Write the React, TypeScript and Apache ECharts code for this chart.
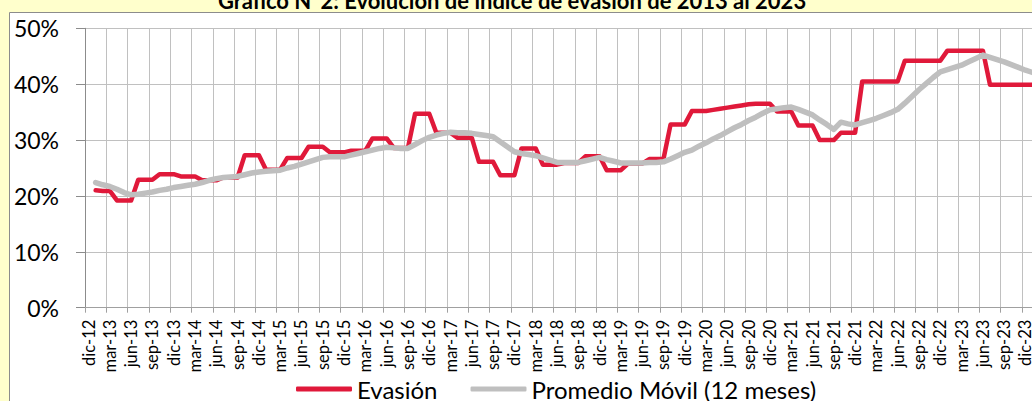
import React, { useEffect, useRef } from "react";
import * as echarts from "echarts";

const MONTHS = ["ene", "feb", "mar", "abr", "may", "jun", "jul", "ago", "sep", "oct", "nov", "dic"];
const START_YEAR = 12; // dic-12 is the first category
const N_CATEGORIES = 135;

const categories: string[] = [];
for (let i = 0; i < N_CATEGORIES; i++) {
  const m = (11 + i) % 12;
  const y = START_YEAR + Math.floor((11 + i) / 12);
  categories.push(`${MONTHS[m]}-${y}`);
}

const Y_TICKS = [0, 10, 20, 30, 40, 50];

const evasion: (number | null)[] = [
  null,
  21.0, 20.9, 20.9, 19.2, 19.2, 19.2, 22.9, 22.9, 22.9, 23.9, 23.9, 23.9, // 2013
  23.5, 23.5, 23.5, 22.8, 22.8, 22.8, 23.3, 23.3, 23.3, 27.3, 27.3, 27.3, // 2014
  24.7, 24.7, 24.7, 26.8, 26.8, 26.8, 28.8, 28.8, 28.8, 27.8, 27.8, 27.8, // 2015
  28.1, 28.1, 28.1, 30.3, 30.3, 30.3, 28.6, 28.6, 28.6, 34.7, 34.7, 34.7, // 2016
  31.3, 31.3, 31.3, 30.4, 30.4, 30.4, 26.1, 26.1, 26.1, 23.7, 23.7, 23.7, // 2017
  28.5, 28.5, 28.5, 25.6, 25.6, 25.6, 25.9, 25.9, 25.9, 27.1, 27.1, 27.1, // 2018
  24.6, 24.6, 24.6, 25.8, 25.8, 25.8, 26.6, 26.6, 26.6, 32.8, 32.8, 32.8, // 2019
  35.2, 35.2, 35.2, 35.4, 35.6, 35.8, 36.0, 36.2, 36.4, 36.5, 36.5, 36.5, // 2020
  35.1, 35.1, 35.1, 32.6, 32.6, 32.6, 30.0, 30.0, 30.0, 31.3, 31.3, 31.3, // 2021
  40.5, 40.5, 40.5, 40.5, 40.5, 40.5, 44.2, 44.2, 44.2, 44.2, 44.2, 44.2, // 2022
  46.0, 46.0, 46.0, 46.0, 46.0, 46.0, 39.9, 39.9, 39.9, 39.9, 39.9, 39.9, // 2023
  39.9, 39.9, // 2024
];

const promedioMovil: (number | null)[] = [
  null,
  22.4, 22.0, 21.7, 21.2, 20.6, 20.2, 20.3, 20.5, 20.7, 21.0, 21.2, 21.5, // 2013
  21.7, 21.9, 22.1, 22.4, 22.8, 23.1, 23.3, 23.4, 23.5, 23.8, 24.1, 24.3, // 2014
  24.4, 24.5, 24.6, 25.0, 25.3, 25.7, 26.1, 26.5, 26.9, 27.0, 27.0, 27.0, // 2015
  27.3, 27.6, 27.9, 28.2, 28.5, 28.7, 28.6, 28.5, 28.5, 29.2, 29.9, 30.5, // 2016
  30.9, 31.2, 31.4, 31.3, 31.3, 31.2, 31.0, 30.8, 30.6, 29.7, 28.8, 27.9, // 2017
  27.6, 27.4, 27.2, 26.8, 26.4, 26.0, 26.0, 26.0, 26.0, 26.3, 26.6, 26.9, // 2018
  26.5, 26.2, 25.9, 25.9, 25.9, 25.9, 26.0, 26.0, 26.1, 26.6, 27.2, 27.8, // 2019
  28.2, 28.9, 29.5, 30.2, 30.8, 31.5, 32.2, 32.8, 33.5, 34.1, 34.8, 35.4, // 2020
  35.6, 35.8, 35.9, 35.5, 35.0, 34.5, 33.6, 32.8, 31.9, 33.2, 32.9, 32.7, // 2021
  33.1, 33.5, 33.9, 34.4, 34.9, 35.5, 36.6, 37.8, 39.0, 40.1, 41.2, 42.2, // 2022
  42.6, 43.0, 43.4, 44.0, 44.6, 45.2, 44.8, 44.4, 44.0, 43.5, 43.0, 42.5, // 2023
  42.1, 41.7, // 2024
];

const TITLE = "Gráfico N°2: Evolución de índice de evasión de 2013 al 2023";
const SERIES_NAMES = ["Evasión", "Promedio Móvil (12 meses)"];

const FONT = "Lato, 'Open Sans', sans-serif";

export default function App() {
  const ref = useRef<HTMLDivElement>(null);

  useEffect(() => {
    if (!ref.current) return;
    const chart = echarts.init(ref.current, undefined, { renderer: "svg" });
    const plotLeft = 85;
    const catW = 7.098;
    chart.setOption({
      animation: false,
      backgroundColor: "#FFFFCC",
      textStyle: { fontFamily: FONT },
      graphic: [
        {
          type: "rect",
          z: -10,
          shape: { x: 9.5, y: 12.5, width: 1060, height: 400 },
          style: { fill: "#FFFFFF", stroke: "#8C8C8C", lineWidth: 1 },
        },
        {
          type: "text",
          x: 512,
          y: 11,
          style: {
            text: TITLE,
            align: "center",
            verticalAlign: "bottom",
            font: `bold 22px ${FONT}`,
            fill: "#000000",
          },
        },
      ],
      grid: {
        left: plotLeft,
        top: 28.3,
        width: catW * N_CATEGORIES,
        height: 279.4,
        containLabel: false,
      },
      legend: {
        data: SERIES_NAMES,
        left: 291,
        top: 372,
        icon: "roundRect",
        itemWidth: 56,
        itemHeight: 5,
        itemGap: 33,
        textStyle: { fontSize: 24, lineHeight: 24, color: "#000", fontFamily: FONT },
      },
      xAxis: {
        type: "category",
        data: categories,
        boundaryGap: true,
        axisLine: { show: true, lineStyle: { color: "#A0A0A0", width: 1 } },
        axisTick: { show: true, interval: 2, length: 5, lineStyle: { color: "#A0A0A0" } },
        splitLine: { show: true, interval: 2, lineStyle: { color: "#C0C0C0", width: 1 } },
        axisLabel: {
          interval: 2,
          rotate: 90,
          margin: 12,
          fontSize: 16.5,
          color: "#000",
          fontFamily: FONT,
        },
      },
      yAxis: {
        type: "value",
        min: 0,
        max: 50,
        interval: 10,
        axisLine: { show: true, lineStyle: { color: "#8C8C8C", width: 1 } },
        axisTick: { show: true, length: 9, lineStyle: { color: "#8C8C8C" } },
        splitLine: { show: true, lineStyle: { color: "#C0C0C0", width: 1 } },
        axisLabel: {
          formatter: (v: number) => (Y_TICKS.includes(v) ? `${v}%` : ""),
          margin: 26,
          fontSize: 23,
          color: "#000",
          fontFamily: FONT,
        },
      },
      series: [
        {
          name: SERIES_NAMES[0],
          type: "line",
          data: evasion,
          symbol: "none",
          z: 3,
          lineStyle: { color: "#E0193A", width: 4.5, cap: "round", join: "round" },
          itemStyle: { color: "#E0193A" },
        },
        {
          name: SERIES_NAMES[1],
          type: "line",
          data: promedioMovil,
          symbol: "none",
          z: 4,
          lineStyle: { color: "#BFBFBF", width: 5.5, cap: "round", join: "round" },
          itemStyle: { color: "#BFBFBF" },
        },
      ],
    });
    return () => chart.dispose();
  }, []);

  return (
    <div
      style={{
        position: "fixed",
        left: 0,
        top: 0,
        width: 1032,
        height: 401,
        overflow: "hidden",
      }}
    >
      <div ref={ref} style={{ width: 1048, height: 401 }} />
    </div>
  );
}
